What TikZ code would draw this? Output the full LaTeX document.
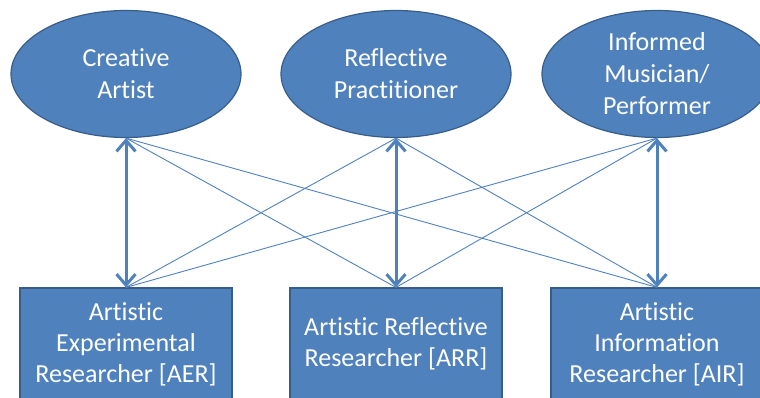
\documentclass[tikz,border=0pt]{standalone}
\usepackage{fontspec}
\setmainfont{Carlito}[Ligatures=NoCommon]
\usetikzlibrary{shapes.geometric,arrows.meta}

\definecolor{officeblue}{HTML}{4F81BD}
\definecolor{officeedge}{HTML}{385D8A}

\begin{document}
\begin{tikzpicture}[
  x=1pt,y=-1pt,
  % Filled blue shapes with white text, as in the slide.
  role/.style={ellipse,draw=officeedge,line width=1.2pt,fill=officeblue,
    text=white,align=center,inner sep=0pt,
    minimum width=230pt,minimum height=127pt,
    font=\fontsize{26}{32}\selectfont},
  researcher/.style={rectangle,draw=officeedge,line width=1.2pt,fill=officeblue,
    text=white,align=center,inner sep=0pt,
    minimum width=212pt,minimum height=112pt,
    font=\fontsize{26}{31}\selectfont},
  link/.style={draw=officeblue,line width=0.9pt},
  mainlink/.style={draw=officeblue,line width=3pt,
    {Straight Barb[length=11pt,width=19pt]}-{Straight Barb[length=11pt,width=19pt]}},
]

%--- geometry ----------------------------------------------------------------
\def\colA{126}     % left column
\def\colB{396}     % middle column
\def\colC{657}     % right column
\def\roleY{74}     % centre line of the ellipses
\def\resY{344}     % centre line of the boxes

\useasboundingbox (0,0) rectangle (760,398);
\clip (0,0) rectangle (760,398);

%--- upper row: the roles ----------------------------------------------------
\node[role] (artist) at (\colA,\roleY) {Creative\\Artist};
\node[role] (practitioner) at (\colB,\roleY) {Reflective\\Practitioner};
\node[role] (musician) at (\colC,\roleY) {Informed\\Musician/\\Performer};

%--- lower row: the researchers ----------------------------------------------
\node[researcher] (aer) at (\colA,\resY) {Artistic\\Experimental\\Researcher [AER]};
\node[researcher] (arr) at (\colB,\resY) {Artistic Reflective\\Researcher [ARR]};
\node[researcher] (air) at (\colC,\resY) {Artistic\\Information\\Researcher [AIR]};

% Every role is tied to every researcher; the direct pairs are stressed.
\draw[link] (artist.south) -- (arr.north);
\draw[link] (artist.south) -- (air.north);
\draw[link] (practitioner.south) -- (aer.north);
\draw[link] (practitioner.south) -- (air.north);
\draw[link] (musician.south) -- (aer.north);
\draw[link] (musician.south) -- (arr.north);

\draw[mainlink] (artist.south) -- (aer.north);
\draw[mainlink] (practitioner.south) -- (arr.north);
\draw[mainlink] (musician.south) -- (air.north);

\end{tikzpicture}
\end{document}
